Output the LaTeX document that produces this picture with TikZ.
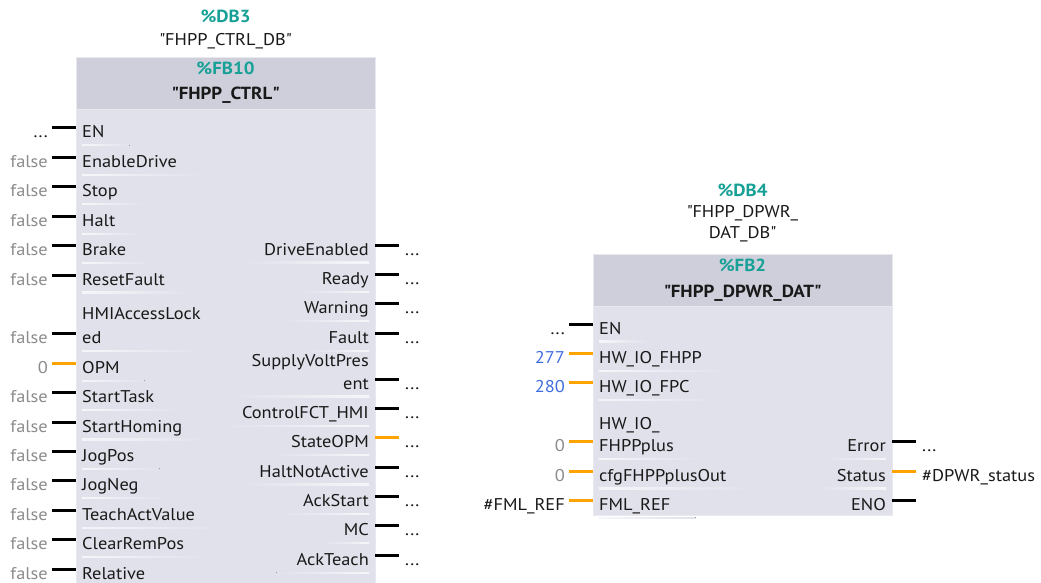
\documentclass[tikz,border=0pt]{standalone}
\usepackage{fontspec}
\setmainfont{PT Sans}[FakeStretch=1.08]
\definecolor{hdr}{RGB}{206,207,219}
\definecolor{bodyc}{RGB}{224,225,234}
\definecolor{edgec}{RGB}{232,233,238}
\definecolor{sepc}{RGB}{246,246,250}
\definecolor{tealc}{RGB}{22,160,150}
\definecolor{pinorange}{RGB}{255,163,0}
\definecolor{valgray}{RGB}{140,140,140}
\definecolor{valblue}{RGB}{64,110,225}
\definecolor{txt}{RGB}{25,25,25}
\newcommand\qq{\textquotedbl}
\tikzset{
  lbl/.style={font=\fontsize{17}{20}\selectfont, text=txt, inner sep=0pt},
  val/.style={font=\fontsize{17}{20}\selectfont, inner sep=0pt},
  pinline/.style={line width=3pt},
  bpin/.style={pinline, draw=black},
  opin/.style={pinline, draw=pinorange},
  hdrtxt/.style={font=\fontsize{17.5}{20}\selectfont\bfseries, inner sep=0pt, anchor=base},
  dbtxt/.style={font=\fontsize{17}{20}\selectfont, text=txt, inner sep=0pt, anchor=base},
  blockhdr/.style={fill=hdr, draw=edgec, line width=1pt},
  blockbody/.style={fill=bodyc, draw=edgec, line width=1pt},
}
% input pin: name, block left x, pin y, value, value colour, label, pin style
\newcommand\myinp[7]{%
  \node[lbl, anchor=base west] (#1) at (#2+6,#3+10) {#6};
  \node[val, text=#5, anchor=base east] (#1v) at (#2-28,#3+10) {#4};
  \coordinate (#1a) at (#2-24,#3);
  \coordinate (#1b) at (#2,#3);
  \draw[#7] (#1a) -- (#1b);
  \fill[left color=sepc, right color=bodyc] ([yshift=-6.8pt]#1.base west) rectangle ([yshift=-8pt,xshift=25pt]#1.base east);
}
% output pin: name, block right x, pin y, value, label, pin style
\newcommand\myoutp[6]{%
  \node[lbl, anchor=base east] (#1) at (#2-6,#3+10) {#5};
  \node[val, text=txt, anchor=base west] (#1v) at (#2+30,#3+10) {#4};
  \coordinate (#1a) at (#2,#3);
  \coordinate (#1b) at (#2+24,#3);
  \draw[#6] (#1a) -- (#1b);
  \fill[left color=bodyc, right color=sepc] ([yshift=-6.8pt,xshift=-20pt]#1.base west) rectangle ([yshift=-8pt]#1.base east);
}
\begin{document}
\begin{tikzpicture}[x=1pt,y=-1pt]
\useasboundingbox (0,0) rectangle (1041,583);
\fill[white] (0,0) rectangle (1041,583);

% ---------------- left block FB10 ----------------
\fill[blockbody] (76,110) rectangle (375,590);
\fill[blockhdr] (76,58) rectangle (375,110);
\node[hdrtxt, text=tealc] (db3) at (225.5,23) {\%DB3};
\node[dbtxt] (db3n) at (225.5,45.5) {\qq FHPP\_CTRL\_DB\qq};
\node[hdrtxt, text=tealc] (fb10) at (225.5,75) {\%FB10};
\node[hdrtxt, text=txt] (fb10n) at (225.5,100) {\qq FHPP\_CTRL\qq};

\myinp{en1}{76}{128}{...}{txt}{EN}{bpin}
\myinp{ed1}{76}{157.4}{false}{valgray}{EnableDrive}{bpin}
\myinp{stop1}{76}{186.8}{false}{valgray}{Stop}{bpin}
\myinp{halt1}{76}{216.2}{false}{valgray}{Halt}{bpin}
\myinp{brake1}{76}{245.6}{false}{valgray}{Brake}{bpin}
\myinp{rf1}{76}{275}{false}{valgray}{ResetFault}{bpin}
\node[lbl, anchor=base west] (hmiA) at (82,319.5) {HMIAccessLock};
\myinp{hmi1}{76}{333.8}{false}{valgray}{ed}{bpin}
\fill[left color=sepc, right color=bodyc] ([yshift=-6.8pt]hmi1.base west) rectangle ([yshift=-8pt]hmiA.base east |- hmi1.base);
\myinp{opm1}{76}{363.2}{0}{valgray}{OPM}{opin}
\myinp{st1}{76}{392.6}{false}{valgray}{StartTask}{bpin}
\myinp{sh1}{76}{422}{false}{valgray}{StartHoming}{bpin}
\myinp{jp1}{76}{451.4}{false}{valgray}{JogPos}{bpin}
\myinp{jn1}{76}{480.8}{false}{valgray}{JogNeg}{bpin}
\myinp{tav1}{76}{510.2}{false}{valgray}{TeachActValue}{bpin}
\myinp{crp1}{76}{539.6}{false}{valgray}{ClearRemPos}{bpin}
\myinp{rel1}{76}{569}{false}{valgray}{Relative}{bpin}

\myoutp{de1}{375}{245}{...}{DriveEnabled}{bpin}
\myoutp{rdy1}{375}{274.4}{...}{Ready}{bpin}
\myoutp{wrn1}{375}{303.8}{...}{Warning}{bpin}
\myoutp{flt1}{375}{333.2}{...}{Fault}{bpin}
\node[lbl, anchor=base east] (svpA) at (369,366.5) {SupplyVoltPres};
\myoutp{svp1}{375}{379}{...}{ent}{bpin}
\fill[left color=bodyc, right color=sepc] ([yshift=-6.8pt,xshift=-20pt]svpA.base west |- svp1.base) rectangle ([yshift=-8pt]svp1.base east);
\myoutp{cfh1}{375}{408.3}{...}{ControlFCT\_HMI}{bpin}
\myoutp{sopm1}{375}{437.7}{...}{StateOPM}{opin}
\myoutp{hna1}{375}{467.1}{...}{HaltNotActive}{bpin}
\myoutp{acks1}{375}{496.5}{...}{AckStart}{bpin}
\myoutp{mc1}{375}{525.9}{...}{MC}{bpin}
\myoutp{ackt1}{375}{555.3}{...}{AckTeach}{bpin}

% ---------------- right block FB2 ----------------
\fill[blockbody] (593,306) rectangle (892,515);
\fill[blockhdr] (593,254) rectangle (892,306);
\node[hdrtxt, text=tealc] (db4) at (742.5,196) {\%DB4};
\node[dbtxt] (db4n) at (742.5,217) {\qq FHPP\_DPWR\_};
\node[dbtxt] (db4m) at (742.5,238.5) {DAT\_DB\qq};
\node[hdrtxt, text=tealc] (fb2) at (742.5,271.5) {\%FB2};
\node[hdrtxt, text=txt] (fb2n) at (742.5,297) {\qq FHPP\_DPWR\_DAT\qq};

\myinp{en2}{593}{324}{...}{txt}{EN}{bpin}
\myinp{hwf2}{593}{353.4}{277}{valblue}{HW\_IO\_FHPP}{opin}
\myinp{hwc2}{593}{382.8}{280}{valblue}{HW\_IO\_FPC}{opin}
\node[lbl, anchor=base west] (hwpA) at (599,429.5) {HW\_IO\_};
\myinp{hwp2}{593}{441.6}{0}{valgray}{FHPPplus}{opin}
\myinp{cfg2}{593}{471}{0}{valgray}{cfgFHPPplusOut}{opin}
\myinp{fml2}{593}{500.4}{\#FML\_REF}{txt}{FML\_REF}{opin}

\myoutp{err2}{892}{441.6}{...}{Error}{bpin}
\myoutp{sts2}{892}{471}{\#DPWR\_status}{Status}{opin}
\node[lbl, anchor=base east] (eno2) at (886,510.4) {ENO};
\coordinate (eno2a) at (892,500.4);
\coordinate (eno2b) at (916,500.4);
\draw[bpin] (eno2a) -- (eno2b);
\end{tikzpicture}
\end{document}
